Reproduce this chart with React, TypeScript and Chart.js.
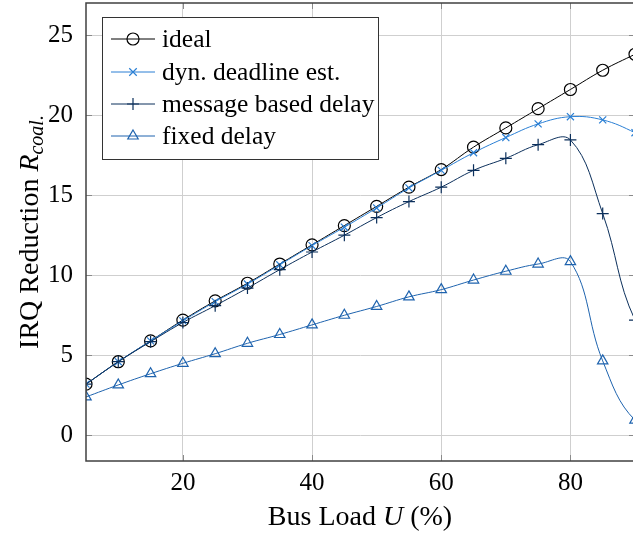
import React, { useEffect, useRef } from "react";
import { Chart, registerables } from "chart.js";
Chart.register(...registerables);

// x = 95 lies beyond the cropped right edge; kept only so the smooth curves continue past 90
const busLoad = [5, 10, 15, 20, 25, 30, 35, 40, 45, 50, 55, 60, 65, 70, 75, 80, 85, 90, 95];
const ideal = [3.2, 4.6, 5.9, 7.2, 8.4, 9.5, 10.7, 11.9, 13.1, 14.3, 15.5, 16.6, 18.0, 19.2, 20.4, 21.6, 22.8, 23.8, 24.8];
const dynDeadline = [3.2, 4.6, 5.9, 7.15, 8.35, 9.45, 10.65, 11.85, 13.0, 14.2, 15.45, 16.55, 17.65, 18.6, 19.45, 19.9, 19.7, 18.9, 17.8];
const messageBased = [3.2, 4.6, 5.85, 7.05, 8.1, 9.2, 10.35, 11.45, 12.5, 13.6, 14.6, 15.5, 16.55, 17.3, 18.15, 18.45, 13.85, 7.2, 5.2];
const fixedDelay = [2.4, 3.15, 3.85, 4.5, 5.1, 5.75, 6.3, 6.9, 7.5, 8.05, 8.65, 9.1, 9.7, 10.25, 10.7, 10.85, 4.65, 0.95, 0.6];
const xTicks = [20, 40, 60, 80];
const yTicks = [0, 5, 10, 15, 20, 25];
const seriesNames = ["ideal", "dyn. deadline est.", "message based delay", "fixed delay"];
const seriesColors = ["#000000", "#2a7fd4", "#0b2f5b", "#1e63ae"];
const seriesMarkers = ["circle", "crossRot", "cross", "triangle"];
const seriesRadius = [6, 5, 6, 6];

const SERIF = "'Liberation Serif', 'Times New Roman', serif";

function toPoints(vals: number[]) {
  return busLoad.map((x, i) => ({ x, y: vals[i] }));
}

const overlay = {
  id: "overlay",
  afterDraw(chart: any) {
    const { ctx, chartArea, scales } = chart;
    const { left, right, top, bottom } = chartArea;
    ctx.save();
    // inward ticks
    ctx.strokeStyle = "#8a8a8a";
    ctx.lineWidth = 1;
    const tl = 6;
    xTicks.forEach((v) => {
      const px = Math.round(scales.x.getPixelForValue(v)) + 0.5;
      ctx.beginPath();
      ctx.moveTo(px, bottom);
      ctx.lineTo(px, bottom - tl);
      ctx.moveTo(px, top);
      ctx.lineTo(px, top + tl);
      ctx.stroke();
    });
    yTicks.forEach((v) => {
      const py = Math.round(scales.y.getPixelForValue(v)) + 0.5;
      ctx.beginPath();
      ctx.moveTo(left, py);
      ctx.lineTo(left + tl, py);
      ctx.moveTo(right, py);
      ctx.lineTo(right - tl, py);
      ctx.stroke();
    });
    // box
    ctx.strokeStyle = "#404040";
    ctx.lineWidth = 1.5;
    ctx.strokeRect(left, top, right - left, bottom - top);

    // legend
    const lx = 102, ly = 17, lw = 276, lh = 142;
    ctx.fillStyle = "#ffffff";
    ctx.fillRect(lx, ly, lw, lh);
    ctx.strokeStyle = "#333333";
    ctx.lineWidth = 1;
    ctx.strokeRect(lx + 0.5, ly + 0.5, lw, lh);
    const rowY = [39, 72, 104, 136];
    ctx.font = `25.5px ${SERIF}`;
    ctx.textBaseline = "middle";
    seriesNames.forEach((name, i) => {
      const y = rowY[i];
      ctx.strokeStyle = seriesColors[i];
      ctx.lineWidth = 1;
      ctx.beginPath();
      ctx.moveTo(111, y);
      ctx.lineTo(155, y);
      ctx.stroke();
      ctx.lineWidth = 1.2;
      const mx = 133;
      const r = seriesRadius[i];
      ctx.beginPath();
      if (seriesMarkers[i] === "circle") {
        ctx.arc(mx, y, r, 0, Math.PI * 2);
      } else if (seriesMarkers[i] === "crossRot") {
        const d = r * 0.75;
        ctx.moveTo(mx - d, y - d); ctx.lineTo(mx + d, y + d);
        ctx.moveTo(mx - d, y + d); ctx.lineTo(mx + d, y - d);
      } else if (seriesMarkers[i] === "cross") {
        ctx.moveTo(mx - r, y); ctx.lineTo(mx + r, y);
        ctx.moveTo(mx, y - r); ctx.lineTo(mx, y + r);
      } else {
        const h = r * 1.5;
        ctx.moveTo(mx, y - r);
        ctx.lineTo(mx + r * 0.87, y + h - r);
        ctx.lineTo(mx - r * 0.87, y + h - r);
        ctx.closePath();
      }
      ctx.stroke();
      ctx.fillStyle = "#000000";
      ctx.fillText(name, 162, y + 1);
    });

    // x title
    ctx.fillStyle = "#000";
    ctx.textBaseline = "alphabetic";
    const xParts = [
      { t: "Bus Load ", f: `28px ${SERIF}` },
      { t: "U", f: `italic 28px ${SERIF}` },
      { t: " (%)", f: `28px ${SERIF}` },
    ];
    let total = 0;
    xParts.forEach((p) => { ctx.font = p.f; total += ctx.measureText(p.t).width; });
    let cx = 360 - total / 2;
    xParts.forEach((p) => { ctx.font = p.f; ctx.fillText(p.t, cx, 525); cx += ctx.measureText(p.t).width; });

    // y title
    ctx.translate(38, 232);
    ctx.rotate(-Math.PI / 2);
    const yParts = [
      { t: "IRQ Reduction ", f: `28px ${SERIF}`, dy: 0 },
      { t: "R", f: `italic 28px ${SERIF}`, dy: 0 },
      { t: "coal.", f: `italic 20px ${SERIF}`, dy: 5 },
    ];
    total = 0;
    yParts.forEach((p) => { ctx.font = p.f; total += ctx.measureText(p.t).width; });
    cx = -total / 2;
    yParts.forEach((p) => { ctx.font = p.f; ctx.fillText(p.t, cx, p.dy); cx += ctx.measureText(p.t).width; });
    ctx.restore();
  },
};

export default function App() {
  const ref = useRef<HTMLCanvasElement | null>(null);
  useEffect(() => {
    if (!ref.current) return;
    const datasets = [ideal, dynDeadline, messageBased, fixedDelay].map((vals, i) => ({
      label: seriesNames[i],
      data: toPoints(vals),
      borderColor: seriesColors[i],
      backgroundColor: "transparent",
      borderWidth: 1,
      pointStyle: seriesMarkers[i] as any,
      pointRadius: seriesRadius[i],
      pointBorderWidth: 1.2,
      pointBorderColor: seriesColors[i],
      pointBackgroundColor: "transparent",
      tension: 0.4,
      order: 4 - i,
    }));
    const chart = new Chart(ref.current, {
      type: "line",
      data: { datasets },
      plugins: [overlay],
      options: {
        animation: false,
        responsive: false,
        maintainAspectRatio: false,
        layout: { autoPadding: false, padding: { top: 3, left: 0, right: 5, bottom: 0 } },
        plugins: { legend: { display: false }, tooltip: { enabled: false } },
        scales: {
          x: {
            type: "linear",
            min: 5,
            max: 90,
            afterBuildTicks: (s: any) => { s.ticks = xTicks.map((v) => ({ value: v })); },
            afterFit: (s: any) => { s.height = 72; s.paddingLeft = 0; s.paddingRight = 0; s.paddingTop = 0; s.paddingBottom = 0; },
            ticks: { color: "#000", font: { family: SERIF, size: 25 }, padding: 7, maxRotation: 0 },
            grid: { color: "#cfcfcf", lineWidth: 1, drawTicks: false },
            border: { display: false },
          },
          y: {
            type: "linear",
            min: -1.6,
            max: 27,
            afterBuildTicks: (s: any) => { s.ticks = yTicks.map((v) => ({ value: v })); },
            afterFit: (s: any) => { s.width = 86; s.paddingTop = 0; s.paddingBottom = 0; s.paddingLeft = 0; s.paddingRight = 0; },
            ticks: { color: "#000", font: { family: SERIF, size: 25 }, padding: 13 },
            grid: { color: "#cfcfcf", lineWidth: 1, drawTicks: false },
            border: { display: false },
          },
        },
      },
    });
    return () => chart.destroy();
  }, []);
  return (
    <div style={{ position: "absolute", left: 0, top: 0, width: 633, height: 533, overflow: "hidden", background: "#fff" }}>
      <canvas ref={ref} width={640} height={533} style={{ width: 640, height: 533, display: "block" }} />
    </div>
  );
}
